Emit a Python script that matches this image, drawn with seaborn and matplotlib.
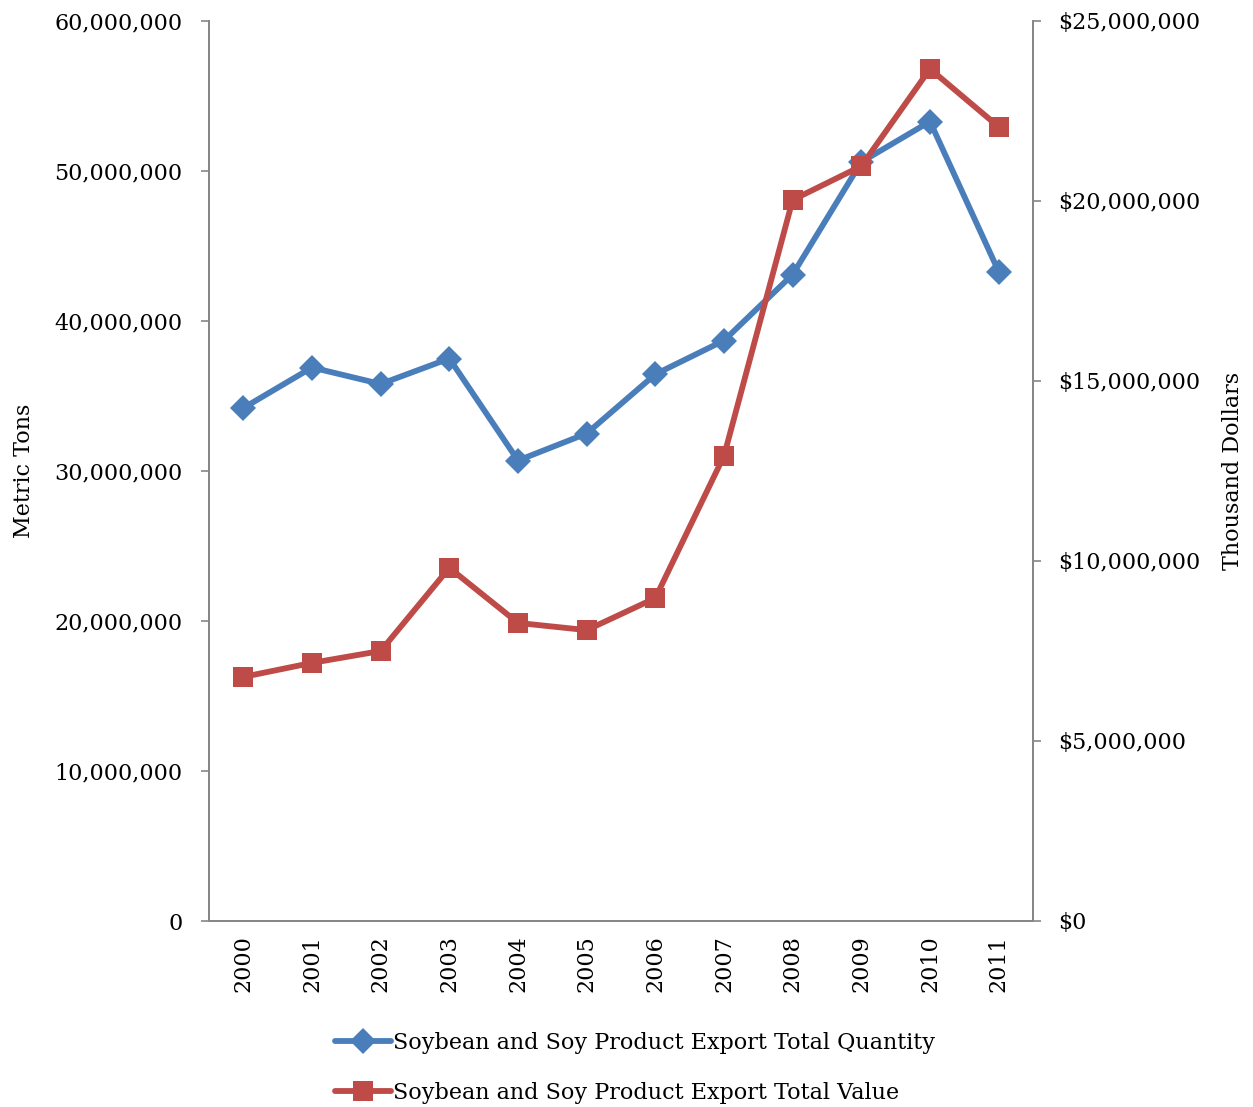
import matplotlib
matplotlib.use("Agg")
import matplotlib.pyplot as plt
from matplotlib.ticker import FuncFormatter, MultipleLocator
import seaborn as sns
import pandas as pd

years = [2000, 2001, 2002, 2003, 2004, 2005, 2006, 2007, 2008, 2009, 2010, 2011]
quantity_tons = [34_200_000, 36_900_000, 35_800_000, 37_500_000, 30_700_000, 32_500_000,
                 36_450_000, 38_700_000, 43_100_000, 50_600_000, 53_300_000, 43_300_000]
value_kusd = [6_780_000, 7_170_000, 7_500_000, 9_810_000, 8_280_000, 8_080_000,
              8_970_000, 12_920_000, 20_030_000, 20_970_000, 23_670_000, 22_060_000]

qty_label = "Soybean and Soy Product Export Total Quantity"
val_label = "Soybean and Soy Product Export Total Value"

df = pd.DataFrame({"year": years, "quantity": quantity_tons, "value": value_kusd})

sns.set_style("white")
plt.rcParams["font.family"] = ["DejaVu Serif"]
plt.rcParams["font.size"] = 16
plt.rcParams["text.color"] = "black"
plt.rcParams["axes.labelcolor"] = "black"

BLUE = "#4A7EBB"
RED = "#BE4B48"
GRAY = "#868686"

fig = plt.figure(figsize=(12.53, 11.07), dpi=100)
ax = fig.add_axes([209 / 1253, 1 - 921 / 1107, (1033 - 209) / 1253, 900 / 1107])
ax2 = ax.twinx()

sns.lineplot(data=df, x="year", y="quantity", ax=ax, color=BLUE, linewidth=4.2,
             marker="D", markersize=13, markeredgewidth=0, label=qty_label, legend=False)
sns.lineplot(data=df, x="year", y="value", ax=ax2, color=RED, linewidth=4.2,
             marker="s", markersize=14.5, markeredgewidth=0, label=val_label, legend=False)

ax.set_xlim(1999.5, 2011.5)
ax.set_ylim(0, 60_000_000)
ax2.set_ylim(0, 25_000_000)
ax.yaxis.set_major_locator(MultipleLocator(10_000_000))
ax2.yaxis.set_major_locator(MultipleLocator(5_000_000))
ax.yaxis.set_major_formatter(FuncFormatter(lambda v, p: f"{v:,.0f}"))
ax2.yaxis.set_major_formatter(FuncFormatter(lambda v, p: f"${v:,.0f}"))

# year labels at category centres, tick marks at category boundaries
ax.set_xticks(years)
ax.set_xticklabels([str(y) for y in years], rotation=90)
ax.set_xticks([y - 0.5 for y in years] + [years[-1] + 0.5], minor=True)
ax.tick_params(axis="x", which="major", length=0, pad=10, labelsize=16, labelcolor="black")
ax.tick_params(axis="x", which="minor", length=6, width=1.2, color=GRAY, direction="out")
ax.tick_params(axis="y", length=6, width=1.2, color=GRAY, direction="out", pad=13, labelsize=16,
               left=True, labelcolor="black")
ax2.tick_params(axis="y", length=6, width=1.2, color=GRAY, direction="out", pad=12, labelsize=16,
                right=True, labelcolor="black")

ax.set_xlabel("")
ax.set_ylabel("Metric Tons", fontsize=16, labelpad=14)
ax2.set_ylabel("Thousand Dollars", fontsize=16, labelpad=16)

for a in (ax, ax2):
    a.grid(False)
    a.spines["top"].set_visible(False)
    for s in ("left", "right", "bottom"):
        a.spines[s].set_color(GRAY)
        a.spines[s].set_linewidth(1.3)

handles = ax.get_lines()[:1] + ax2.get_lines()[:1]
fig.legend(handles, [qty_label, val_label], loc="upper left",
           bbox_to_anchor=(315 / 1253, 1 - 1012 / 1107), frameon=False, fontsize=16,
           handlelength=2.5, handletextpad=0.1, labelspacing=1.25)

fig.savefig("out.png", dpi=100, facecolor="white")
